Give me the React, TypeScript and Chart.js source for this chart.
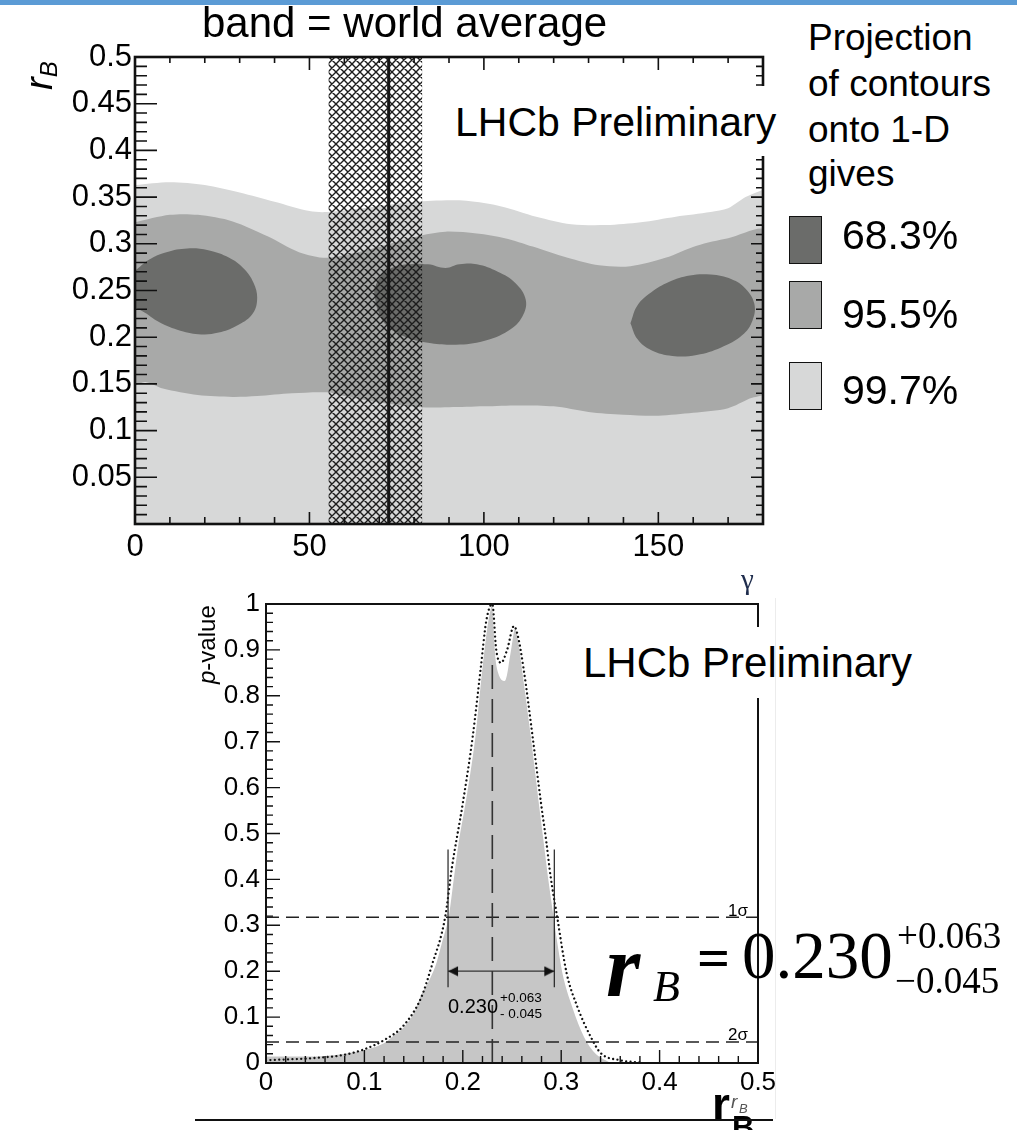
import React, { useEffect, useRef } from "react";
import { Chart, registerables } from "chart.js";

Chart.register(...registerables);

const SANS = '"Liberation Sans", Arial, Helvetica, sans-serif';
const SERIF = '"Liberation Serif", "Times New Roman", Times, serif';

// ---------- upper panel: (gamma, r_B) confidence regions ----------
const gammaMin = 0;
const gammaMax = 180;
const rbMax = 0.5;

// 99.7% region: upper edge, filled down to r_B = 0
const lightGamma = [0, 10, 20, 30, 40, 50, 55, 65, 75, 85, 95, 105, 115, 125, 135, 145, 155, 165, 170, 175, 180];
const lightTop = [0.363, 0.366, 0.363, 0.355, 0.345, 0.335, 0.334, 0.338, 0.343, 0.346, 0.346, 0.34, 0.329, 0.321, 0.32, 0.323, 0.329, 0.334, 0.338, 0.35, 0.358];

// 95.5% region: upper edge (left to right) then lower edge (right to left)
const midUpperGamma = [-1, 0, 10, 18, 28, 38, 47, 55, 65, 75, 82, 89, 98, 106, 114, 124, 133, 142, 152, 161, 170, 181];
const midUpperR = [0.322, 0.323, 0.331, 0.331, 0.324, 0.308, 0.291, 0.285, 0.292, 0.302, 0.309, 0.313, 0.311, 0.306, 0.297, 0.285, 0.277, 0.276, 0.285, 0.298, 0.306, 0.313];
const midLowerGamma = [181, 176, 170, 160, 150, 140, 130, 120, 110, 100, 90, 82, 70, 60, 55, 45, 35, 28, 18, 8, 3, 0, -1];
const midLowerR = [0.142, 0.134, 0.124, 0.119, 0.116, 0.117, 0.12, 0.126, 0.127, 0.126, 0.125, 0.125, 0.13, 0.137, 0.141, 0.14, 0.137, 0.136, 0.138, 0.145, 0.152, 0.148, 0.146];

// 68.3% islands
const blobLeftGamma = [-3, 0, 4, 9, 15, 21, 27, 31, 34, 35, 33.5, 29, 24, 19, 13, 7, 2, -3];
const blobLeftR = [0.262, 0.271, 0.283, 0.291, 0.295, 0.293, 0.285, 0.274, 0.258, 0.24, 0.224, 0.212, 0.205, 0.203, 0.207, 0.216, 0.228, 0.236];
const blobMidGamma = [68.5, 70, 73, 78, 84, 89, 93, 98, 104, 109, 112, 111, 107, 100, 92, 84, 77, 72, 69.5, 68.5];
const blobMidR = [0.25, 0.263, 0.273, 0.278, 0.278, 0.274, 0.278, 0.278, 0.27, 0.258, 0.24, 0.222, 0.207, 0.196, 0.192, 0.194, 0.201, 0.213, 0.23, 0.25];
const blobRightGamma = [142, 144, 148, 153, 159, 165, 171, 175, 177.5, 177, 174, 168, 161, 154, 148, 144, 142];
const blobRightR = [0.215, 0.234, 0.248, 0.259, 0.266, 0.267, 0.262, 0.252, 0.236, 0.218, 0.202, 0.189, 0.181, 0.18, 0.186, 0.198, 0.215];

// world average of gamma (band and central value)
const gammaAvgLow = 55.5;
const gammaAvg = 72.7;
const gammaAvgHigh = 82.3;

const levelLabels = ["68.3%", "95.5%", "99.7%"];
const levelColors = ["#6b6c6a", "#a8a9a8", "#d7d8d8"];

// ---------- lower panel: p-value scan of r_B ----------
const pFillR = [0, 0.02, 0.05, 0.08, 0.1, 0.12, 0.13, 0.14, 0.15, 0.156, 0.165, 0.172, 0.178, 0.185, 0.19, 0.195, 0.202, 0.212, 0.219, 0.225, 0.23, 0.234, 0.2375, 0.2425, 0.2475, 0.253, 0.257, 0.261, 0.27, 0.278, 0.283, 0.287, 0.293, 0.302, 0.312, 0.324, 0.336, 0.345, 0.352];
const pFillV = [0.016, 0.016, 0.016, 0.022, 0.03, 0.045, 0.062, 0.08, 0.11, 0.144, 0.18, 0.215, 0.262, 0.32, 0.4, 0.48, 0.566, 0.71, 0.856, 0.96, 1.0, 0.88, 0.845, 0.834, 0.89, 0.95, 0.92, 0.856, 0.71, 0.566, 0.48, 0.41, 0.317, 0.196, 0.122, 0.057, 0.02, 0.008, 0];
const pDotR = [0, 0.05, 0.08, 0.1, 0.12, 0.14, 0.158, 0.168, 0.182, 0.189, 0.2, 0.21, 0.218, 0.224, 0.23, 0.234, 0.239, 0.245, 0.252, 0.256, 0.262, 0.271, 0.2795, 0.285, 0.289, 0.296, 0.3055, 0.3165, 0.33, 0.34, 0.36, 0.38];
const pDotV = [0.006, 0.011, 0.018, 0.03, 0.05, 0.082, 0.144, 0.209, 0.317, 0.427, 0.566, 0.71, 0.856, 0.965, 1.0, 0.9, 0.872, 0.9, 0.952, 0.93, 0.856, 0.71, 0.566, 0.48, 0.41, 0.317, 0.196, 0.122, 0.057, 0.022, 0.006, 0.001];

const rCentral = 0.23;
const rErrPlus = 0.063;
const rErrMinus = 0.045;
const rLow = rCentral - rErrMinus;
const rHigh = rCentral + rErrPlus;
const oneSigmaP = 0.3173;
const twoSigmaP = 0.0455;
const arrowP = 0.2;
const intervalBarP = [0.165, 0.465];
const centralLineTop = 0.885;

const fmt = (v: number) => String(Math.round(v * 1000) / 1000);
const pts = (xs: number[], ys: number[]) => xs.map((x, i) => ({ x, y: ys[i] }));

function makeHatch(ctx: CanvasRenderingContext2D): CanvasPattern | string {
  const n = 8;
  const tile = document.createElement("canvas");
  tile.width = n;
  tile.height = n;
  const c = tile.getContext("2d");
  if (!c) return "rgba(0,0,0,0.5)";
  c.strokeStyle = "#1c1c1c";
  c.lineWidth = 1.4;
  c.beginPath();
  for (let k = -1; k <= 1; k++) {
    c.moveTo(k * n, 0);
    c.lineTo(k * n + n, n);
    c.moveTo(k * n + n, 0);
    c.lineTo(k * n, n);
  }
  c.stroke();
  return ctx.createPattern(tile, "repeat") || "rgba(0,0,0,0.5)";
}

function arrowHead(dir: 1 | -1): HTMLCanvasElement {
  const w = 24;
  const h = 11;
  const cv = document.createElement("canvas");
  cv.width = w;
  cv.height = h;
  const c = cv.getContext("2d");
  if (c) {
    c.fillStyle = "#111";
    c.beginPath();
    c.moveTo(w / 2, h / 2);
    c.lineTo(w / 2 - dir * 10, 0.5);
    c.lineTo(w / 2 - dir * 10, h - 0.5);
    c.closePath();
    c.fill();
  }
  return cv;
}

// inward ticks and frame of the upper panel
const upperFrame = {
  id: "upperFrame",
  afterDatasetsDraw(chart: any) {
    const { ctx, chartArea: a, scales } = chart;
    const xs = scales.x;
    const ys = scales.y;
    ctx.save();
    ctx.strokeStyle = "#111";
    ctx.lineWidth = 1.6;
    ctx.beginPath();
    for (let i = 0; i <= 50; i++) {
      const py = ys.getPixelForValue(i / 100);
      const major = i % 5 === 0;
      ctx.moveTo(a.left, py);
      ctx.lineTo(a.left + (major ? 22 : 12), py);
      ctx.moveTo(a.right, py);
      ctx.lineTo(a.right - (major ? 12 : 7), py);
    }
    for (let g = gammaMin; g <= gammaMax; g += 10) {
      const px = xs.getPixelForValue(g);
      const major = g % 50 === 0;
      ctx.moveTo(px, a.bottom);
      ctx.lineTo(px, a.bottom - (major ? 12 : 7));
      ctx.moveTo(px, a.top);
      ctx.lineTo(px, a.top + (major ? 13 : 6));
    }
    ctx.stroke();
    ctx.lineWidth = 2.6;
    ctx.strokeRect(a.left, a.top, a.right - a.left, a.bottom - a.top);
    ctx.restore();
  },
};

// inward ticks and frame of the lower panel
const lowerFrame = {
  id: "lowerFrame",
  afterDatasetsDraw(chart: any) {
    const { ctx, chartArea: a, scales } = chart;
    const xs = scales.x;
    const ys = scales.y;
    ctx.save();
    ctx.strokeStyle = "#111";
    ctx.lineWidth = 1.4;
    ctx.beginPath();
    for (let i = 0; i <= 50; i++) {
      const py = ys.getPixelForValue(i * 0.02);
      const major = i % 5 === 0;
      ctx.moveTo(a.left, py);
      ctx.lineTo(a.left + (major ? 14 : 7), py);
    }
    for (let i = 0; i <= 25; i++) {
      const px = xs.getPixelForValue(i * 0.02);
      const major = i % 5 === 0;
      ctx.moveTo(px, a.bottom);
      ctx.lineTo(px, a.bottom - (major ? 13 : 7));
    }
    ctx.stroke();
    ctx.lineWidth = 2;
    ctx.strokeRect(a.left, a.top, a.right - a.left, a.bottom - a.top);
    ctx.restore();
  },
};

type TProps = {
  x: number;
  base: number;
  size: number;
  serif?: boolean;
  style?: React.CSSProperties;
  children: React.ReactNode;
};

function Txt({ x, base, size, serif, style, children }: TProps) {
  const k = serif ? 0.8375 : 0.8465;
  return (
    <div
      style={{
        position: "absolute",
        left: x,
        top: base - k * size,
        fontSize: size,
        lineHeight: `${size}px`,
        fontFamily: serif ? SERIF : SANS,
        whiteSpace: "nowrap",
        color: "#000",
        ...style,
      }}
    >
      {children}
    </div>
  );
}

export default function App() {
  const topRef = useRef<HTMLCanvasElement>(null);
  const botRef = useRef<HTMLCanvasElement>(null);

  useEffect(() => {
    const topCanvas = topRef.current;
    const botCanvas = botRef.current;
    if (!topCanvas || !botCanvas) return;
    const tctx = topCanvas.getContext("2d") as CanvasRenderingContext2D;
    const hatch = makeHatch(tctx);

    const noGrid = { display: false, drawTicks: false };
    const tickFont = (size: number) => ({ family: SANS, size });

    const top = new Chart(topCanvas, {
      type: "line",
      data: {
        datasets: [
          {
            label: "world average",
            data: [
              { x: gammaAvg, y: 0 },
              { x: gammaAvg, y: rbMax },
            ],
            borderColor: "#151515",
            borderWidth: 3,
            pointRadius: 0,
            fill: false,
            order: 1,
          },
          {
            label: "world average band",
            data: [
              { x: gammaAvgLow, y: -0.01 },
              { x: gammaAvgLow, y: rbMax + 0.01 },
              { x: gammaAvgHigh, y: rbMax + 0.01 },
              { x: gammaAvgHigh, y: -0.01 },
            ],
            borderWidth: 0,
            backgroundColor: hatch as any,
            fill: "shape",
            pointRadius: 0,
            order: 2,
          },
          {
            label: levelLabels[0],
            data: pts(blobLeftGamma, blobLeftR),
            borderWidth: 0,
            backgroundColor: levelColors[0],
            fill: "shape",
            pointRadius: 0,
            tension: 0.4,
            order: 3,
          },
          {
            label: levelLabels[0],
            data: pts(blobMidGamma, blobMidR),
            borderWidth: 0,
            backgroundColor: levelColors[0],
            fill: "shape",
            pointRadius: 0,
            tension: 0.4,
            order: 3,
          },
          {
            label: levelLabels[0],
            data: pts(blobRightGamma, blobRightR),
            borderWidth: 0,
            backgroundColor: levelColors[0],
            fill: "shape",
            pointRadius: 0,
            tension: 0.4,
            order: 3,
          },
          {
            label: levelLabels[1],
            data: [...pts(midUpperGamma, midUpperR), ...pts(midLowerGamma, midLowerR)],
            borderWidth: 0,
            backgroundColor: levelColors[1],
            fill: "shape",
            pointRadius: 0,
            tension: 0.3,
            order: 6,
          },
          {
            label: levelLabels[2],
            data: pts(lightGamma, lightTop),
            borderWidth: 0,
            backgroundColor: levelColors[2],
            fill: "origin",
            pointRadius: 0,
            tension: 0.3,
            order: 7,
          },
        ],
      },
      options: {
        responsive: false,
        animation: false,
        devicePixelRatio: 1,
        events: [],
        layout: { padding: { top: 57, right: 37, left: 0, bottom: 0 } },
        plugins: { legend: { display: false }, tooltip: { enabled: false } },
        scales: {
          x: {
            type: "linear",
            min: gammaMin,
            max: gammaMax,
            afterFit: (s: any) => {
              s.height = 46;
            },
            grid: noGrid,
            border: { display: false },
            ticks: {
              stepSize: 50,
              includeBounds: false,
              autoSkip: false,
              maxRotation: 0,
              padding: 5,
              color: "#000",
              font: tickFont(31),
              callback: (v: any) => fmt(Number(v)),
            },
          },
          y: {
            type: "linear",
            min: 0,
            max: rbMax,
            afterFit: (s: any) => {
              s.width = 135;
            },
            grid: noGrid,
            border: { display: false },
            ticks: {
              stepSize: 0.05,
              autoSkip: false,
              padding: 3,
              color: "#000",
              font: tickFont(31),
              callback: (v: any) => (Number(v) < 1e-9 ? "" : fmt(Number(v))),
            },
          },
        },
      } as any,
      plugins: [upperFrame],
    });

    const bot = new Chart(botCanvas, {
      type: "line",
      data: {
        datasets: [
          {
            label: "interval",
            data: [
              { x: rLow, y: arrowP },
              { x: rHigh, y: arrowP },
            ],
            borderColor: "#333",
            borderWidth: 1.2,
            pointStyle: [arrowHead(-1), arrowHead(1)] as any,
            pointRadius: 5,
            fill: false,
            order: 1,
          },
          {
            label: "lower edge",
            data: [
              { x: rLow, y: intervalBarP[0] },
              { x: rLow, y: intervalBarP[1] },
            ],
            borderColor: "#222",
            borderWidth: 1.2,
            pointRadius: 0,
            fill: false,
            order: 1,
          },
          {
            label: "upper edge",
            data: [
              { x: rHigh, y: intervalBarP[0] },
              { x: rHigh, y: intervalBarP[1] },
            ],
            borderColor: "#222",
            borderWidth: 1.2,
            pointRadius: 0,
            fill: false,
            order: 1,
          },
          {
            label: "central value",
            data: [
              { x: rCentral, y: 0 },
              { x: rCentral, y: centralLineTop },
            ],
            borderColor: "#333",
            borderWidth: 1.6,
            borderDash: [24, 10],
            pointRadius: 0,
            fill: false,
            order: 2,
          },
          {
            label: "1σ",
            data: [
              { x: 0, y: oneSigmaP },
              { x: 0.5, y: oneSigmaP },
            ],
            borderColor: "#222",
            borderWidth: 1.5,
            borderDash: [13, 7],
            pointRadius: 0,
            fill: false,
            order: 2,
          },
          {
            label: "2σ",
            data: [
              { x: 0, y: twoSigmaP },
              { x: 0.5, y: twoSigmaP },
            ],
            borderColor: "#222",
            borderWidth: 1.5,
            borderDash: [13, 7],
            pointRadius: 0,
            fill: false,
            order: 2,
          },
          {
            label: "p-value (dotted)",
            data: pts(pDotR, pDotV),
            borderColor: "#111",
            borderWidth: 2.3,
            borderDash: [0.01, 4.4],
            borderCapStyle: "round",
            cubicInterpolationMode: "monotone",
            pointRadius: 0,
            fill: false,
            order: 3,
          },
          {
            label: "p-value",
            data: pts(pFillR, pFillV),
            borderColor: "#ffffff",
            borderWidth: 1.5,
            backgroundColor: "#c6c6c6",
            cubicInterpolationMode: "monotone",
            pointRadius: 0,
            fill: "origin",
            order: 4,
          },
        ],
      },
      options: {
        responsive: false,
        animation: false,
        devicePixelRatio: 1,
        events: [],
        layout: { padding: { top: 39, right: 42, left: 0, bottom: 0 } },
        plugins: { legend: { display: false }, tooltip: { enabled: false } },
        scales: {
          x: {
            type: "linear",
            min: 0,
            max: 0.5,
            afterFit: (s: any) => {
              s.height = 67;
            },
            grid: noGrid,
            border: { display: false },
            ticks: {
              stepSize: 0.1,
              autoSkip: false,
              maxRotation: 0,
              padding: 4,
              color: "#000",
              font: tickFont(26),
              callback: (v: any) => fmt(Number(v)),
            },
          },
          y: {
            type: "linear",
            min: 0,
            max: 1,
            afterFit: (s: any) => {
              s.width = 116;
            },
            grid: noGrid,
            border: { display: false },
            ticks: {
              stepSize: 0.1,
              autoSkip: false,
              padding: 6,
              color: "#000",
              font: tickFont(26),
              callback: (v: any) => fmt(Number(v)),
            },
          },
        },
      } as any,
      plugins: [lowerFrame],
    });

    return () => {
      top.destroy();
      bot.destroy();
    };
  }, []);

  const legendRows = [
    { top: 216, textBase: 250 },
    { top: 281, textBase: 329 },
    { top: 362, textBase: 405 },
  ];

  return (
    <div
      style={{
        position: "absolute",
        left: 0,
        top: 0,
        width: 1017,
        height: 1130,
        overflow: "hidden",
        background: "#fff",
      }}
    >
      <div style={{ position: "absolute", left: 0, top: 0, width: 1017, height: 5, background: "#5b9bd5" }} />
      <canvas
        ref={topRef}
        width={800}
        height={570}
        style={{ position: "absolute", left: 0, top: 0, width: 800, height: 570 }}
      />
      <canvas
        ref={botRef}
        width={650}
        height={565}
        style={{ position: "absolute", left: 150, top: 565, width: 650, height: 565 }}
      />

      {/* upper panel annotations */}
      <Txt x={202} base={38} size={42}>
        band = world average
      </Txt>
      <div style={{ position: "absolute", left: 448, top: 86, width: 334, height: 70, background: "#fff" }} />
      <Txt x={455} base={137} size={41}>
        LHCb Preliminary
      </Txt>
      <div
        style={{
          position: "absolute",
          left: 20,
          top: 90,
          transform: "rotate(-90deg)",
          transformOrigin: "0 0",
          fontFamily: SANS,
          fontSize: 38,
          lineHeight: "38px",
          whiteSpace: "nowrap",
        }}
      >
        <span style={{ fontStyle: "italic" }}>r</span>
        <span style={{ fontStyle: "italic", fontSize: 24, position: "relative", top: 5 }}>B</span>
      </div>

      {/* legend */}
      <Txt x={808} base={50} size={37}>
        Projection
      </Txt>
      <Txt x={808} base={96} size={37}>
        of contours
      </Txt>
      <Txt x={808} base={142} size={37}>
        onto 1-D
      </Txt>
      <Txt x={808} base={186} size={37}>
        gives
      </Txt>
      {legendRows.map((r, i) => (
        <React.Fragment key={levelLabels[i]}>
          <div
            style={{
              position: "absolute",
              left: 789,
              top: r.top,
              width: 33,
              height: 48,
              boxSizing: "border-box",
              border: "1.5px solid #111",
              background: levelColors[i],
            }}
          />
          <Txt x={842} base={r.textBase} size={41}>
            {levelLabels[i]}
          </Txt>
        </React.Fragment>
      ))}

      {/* lower panel annotations */}
      <Txt x={741} base={589} size={29} serif style={{ color: "#1f2d4d" }}>
        γ
      </Txt>
      <div
        style={{
          position: "absolute",
          left: 195,
          top: 684,
          transform: "rotate(-90deg)",
          transformOrigin: "0 0",
          fontFamily: SANS,
          fontSize: 24,
          lineHeight: "24px",
          whiteSpace: "nowrap",
        }}
      >
        <span style={{ fontStyle: "italic" }}>p</span>-value
      </div>
      <div style={{ position: "absolute", left: 578, top: 627, width: 345, height: 71, background: "#fff" }} />
      <Txt x={583} base={678} size={42}>
        LHCb Preliminary
      </Txt>
      <Txt x={728} base={916} size={17}>
        1σ
      </Txt>
      <Txt x={728} base={1040} size={17}>
        2σ
      </Txt>
      <Txt x={448} base={1013} size={20}>
        {rCentral.toFixed(3)}
      </Txt>
      <Txt x={500} base={1002} size={13.5}>
        +{rErrPlus.toFixed(3)}
      </Txt>
      <Txt x={500} base={1018} size={13.5}>
        - {rErrMinus.toFixed(3)}
      </Txt>

      {/* result */}
      <Txt x={606} base={997} size={88} serif style={{ fontStyle: "italic", fontWeight: "bold" }}>
        r
      </Txt>
      <Txt x={653} base={1002} size={44} serif style={{ fontStyle: "italic" }}>
        B
      </Txt>
      <Txt x={697} base={978} size={58} serif style={{ fontWeight: "bold" }}>
        =
      </Txt>
      <Txt x={742} base={978} size={67} serif>
        {rCentral.toFixed(3)}
      </Txt>
      <Txt x={897} base={948} size={37} serif>
        +{rErrPlus.toFixed(3)}
      </Txt>
      <Txt x={895} base={993} size={37} serif>
        −{rErrMinus.toFixed(3)}
      </Txt>

      {/* x-axis title of the lower panel */}
      <Txt x={731} base={1108} size={19} style={{ fontStyle: "italic", color: "#555" }}>
        r
      </Txt>
      <Txt x={739} base={1113} size={13} style={{ fontStyle: "italic", color: "#555" }}>
        B
      </Txt>
      <Txt x={712} base={1120} size={46} style={{ fontWeight: "bold" }}>
        r
      </Txt>
      <Txt x={732} base={1138} size={31} style={{ fontWeight: "bold" }}>
        B
      </Txt>

      <div style={{ position: "absolute", left: 195, top: 1119, width: 578, height: 2, background: "#111" }} />
      <div style={{ position: "absolute", left: 775, top: 598, width: 1, height: 521, background: "#ececec" }} />
    </div>
  );
}
